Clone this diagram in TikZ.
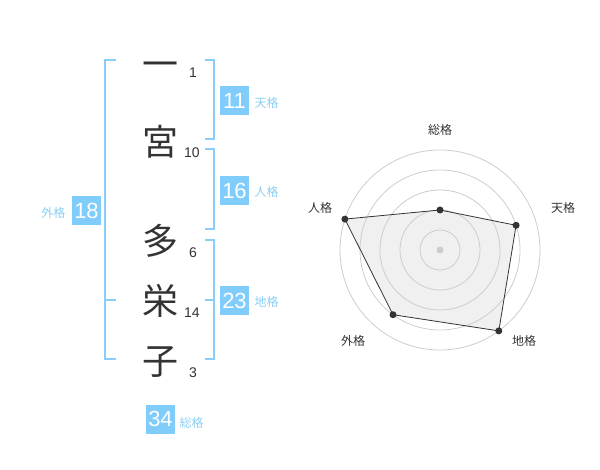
\documentclass[tikz,border=0pt]{standalone}
\usepackage{fontspec}
\usetikzlibrary{calc}
\setmainfont{Liberation Sans}
\newfontfamily\cjk{Noto Sans CJK JP}
\definecolor{boxblue}{RGB}{128,204,250}
\definecolor{brblue}{RGB}{136,206,248}
\definecolor{lblblue}{RGB}{140,206,244}
\definecolor{ink}{RGB}{51,51,51}
\definecolor{ring}{RGB}{205,205,205}
\definecolor{fillg}{RGB}{240,240,240}
\tikzset{
  kanji/.style={inner sep=0pt, text=ink, font=\cjk\fontsize{36}{36}\selectfont, text height=31.7pt, text depth=4.3pt},
  strokes/.style={inner sep=0pt, text=ink, font=\fontsize{14}{14}\selectfont},
  gbox/.style={fill=boxblue, text=white, minimum width=29pt, minimum height=29pt, inner sep=0pt, font=\fontsize{22}{22}\selectfont},
  glabel/.style={inner sep=0pt, text=lblblue, font=\cjk\fontsize{12}{12}\selectfont},
  rlabel/.style={inner sep=0pt, text=ink, font=\cjk\fontsize{12}{12}\selectfont},
  brk/.style={draw=brblue, line width=2pt},
  dot/.style={circle, fill=ink, inner sep=0pt, minimum size=7pt},
}
\begin{document}
\begin{tikzpicture}[x=1pt,y=-1pt]
\useasboundingbox (0,0) rectangle (600,470);
% characters
\node[kanji] (c1) at (160,64) {一};
\node[kanji] (c2) at (160,142) {宮};
\node[kanji] (c3) at (160,241) {多};
\node[kanji] (c4) at (160,301) {栄};
\node[kanji] (c5) at (160,361) {子};
\node[strokes] (s1) at (193,73) {1};
\node[strokes] (s2) at (192,153) {10};
\node[strokes] (s3) at (193,253) {6};
\node[strokes] (s4) at (192,313) {14};
\node[strokes] (s5) at (193,373) {3};
% brackets
\draw[brk] (116,60) -- (105,60) -- (105,359) -- (116,359);
\draw[brk] (105,300) -- (116,300);
\draw[brk] (205,60) -- (214,60) -- (214,139) -- (205,139);
\draw[brk] (205,149) -- (214,149) -- (214,229) -- (205,229);
\draw[brk] (205,240) -- (214,240) -- (214,359) -- (205,359);
\draw[brk] (205,300) -- (214,300);
% boxes
\node[gbox] (b18) at (86.5,210.5) {18};
\node[glabel] (l18) at (53.5,213) {外格};
\node[gbox] (b11) at (234.5,101) {11};
\node[glabel] (l11) at (266.5,103) {天格};
\node[gbox] (b16) at (234.5,190.5) {16};
\node[glabel] (l16) at (266.5,192) {人格};
\node[gbox] (b23) at (234.5,300.5) {23};
\node[glabel] (l23) at (266.5,302) {地格};
\node[gbox] (b34) at (160.5,419) {34};
\node[glabel] (l34) at (191.5,423) {総格};
% radar
\coordinate (O) at (440,250);
\coordinate (pS) at ($(O)+(0,-40)$);
\coordinate (pT) at ($(O)+(76.1,-24.7)$);
\coordinate (pC) at ($(O)+(58.8,80.9)$);
\coordinate (pG) at ($(O)+(-47.0,64.7)$);
\coordinate (pJ) at ($(O)+(-95.1,-30.9)$);
\fill[fillg] (pS) -- (pT) -- (pC) -- (pG) -- (pJ) -- cycle;
\foreach \r in {20,40,60,80,100} \draw[ring, line width=0.8pt] (O) circle[radius=\r];
\draw[ink, line width=0.8pt] (pS) -- (pT) -- (pC) -- (pG) -- (pJ) -- cycle;
\node[circle, fill=ring, inner sep=0pt, minimum size=7pt] (ctr) at (O) {};
\node[dot] (dS) at (pS) {};
\node[dot] (dT) at (pT) {};
\node[dot] (dC) at (pC) {};
\node[dot] (dG) at (pG) {};
\node[dot] (dJ) at (pJ) {};
\node[rlabel] (rS) at (440,130) {総格};
\node[rlabel] (rT) at (563,208) {天格};
\node[rlabel] (rJ) at (320,208) {人格};
\node[rlabel] (rC) at (524,341) {地格};
\node[rlabel] (rG) at (353,341) {外格};
\end{tikzpicture}
\end{document}
